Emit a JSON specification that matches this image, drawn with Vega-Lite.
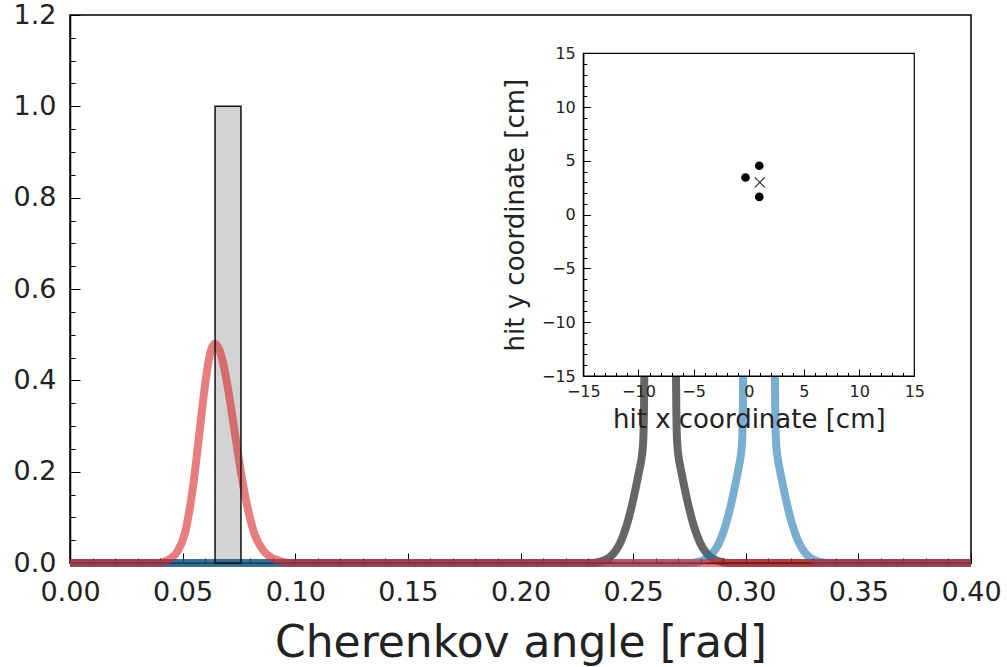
{
  "$schema": "https://vega.github.io/schema/vega-lite/v6.json",
  "width": 901,
  "height": 548,
  "autosize": {"type": "none"},
  "padding": {"left": 70, "top": 15, "right": 36, "bottom": 104},
  "background": "white",
  "config": {
    "view": {"stroke": "black", "strokeWidth": 1.5},
    "font": "DejaVu Sans",
    "axis": {"grid": false, "labelFont": "DejaVu Sans", "titleFont": "DejaVu Sans", "labelColor": "#222", "titleColor": "#222", "titleFontWeight": "normal", "tickColor": "black", "domainColor": "black", "labelFlush": false, "labelOverlap": false}
  },
  "datasets": {
    "curves": [
      {"series": "black", "x": 0, "y": 0}, {"series": "black", "x": 0.23092, "y": 0}, {"series": "black", "x": 0.23536, "y": 0.0032}, {"series": "black", "x": 0.23891, "y": 0.0103}, {"series": "black", "x": 0.24158, "y": 0.0223}, {"series": "black", "x": 0.24424, "y": 0.0439}, {"series": "black", "x": 0.24691, "y": 0.0787}, {"series": "black", "x": 0.24957, "y": 0.1284}, {"series": "black", "x": 0.25179, "y": 0.1795}, {"series": "black", "x": 0.25268, "y": 0.2016}, {"series": "black", "x": 0.25356, "y": 0.224}, {"series": "black", "x": 0.25423, "y": 0.25}, {"series": "black", "x": 0.25459, "y": 0.28}, {"series": "black", "x": 0.25481, "y": 0.33}, {"series": "black", "x": 0.25494, "y": 0.4}, {"series": "black", "x": 0.25512, "y": 0.5}, {"series": "black", "x": 0.25556, "y": 0.62}, {"series": "black", "x": 0.25712, "y": 0.8}, {"series": "black", "x": 0.25934, "y": 0.92}, {"series": "black", "x": 0.262, "y": 0.96}, {"series": "black", "x": 0.26466, "y": 0.92}, {"series": "black", "x": 0.26688, "y": 0.8}, {"series": "black", "x": 0.26844, "y": 0.62}, {"series": "black", "x": 0.26888, "y": 0.5}, {"series": "black", "x": 0.26906, "y": 0.4}, {"series": "black", "x": 0.26919, "y": 0.33}, {"series": "black", "x": 0.26941, "y": 0.28}, {"series": "black", "x": 0.26977, "y": 0.25}, {"series": "black", "x": 0.27044, "y": 0.224}, {"series": "black", "x": 0.27132, "y": 0.2016}, {"series": "black", "x": 0.27221, "y": 0.1795}, {"series": "black", "x": 0.27443, "y": 0.1284}, {"series": "black", "x": 0.27709, "y": 0.0787}, {"series": "black", "x": 0.27976, "y": 0.0439}, {"series": "black", "x": 0.28242, "y": 0.0223}, {"series": "black", "x": 0.28509, "y": 0.0103}, {"series": "black", "x": 0.28864, "y": 0.0032}, {"series": "black", "x": 0.29308, "y": 0}, {"series": "black", "x": 0.4, "y": 0},
      {"series": "blue", "x": 0, "y": 0}, {"series": "blue", "x": 0.27482, "y": 0}, {"series": "blue", "x": 0.27926, "y": 0.0032}, {"series": "blue", "x": 0.28281, "y": 0.0103}, {"series": "blue", "x": 0.28548, "y": 0.0223}, {"series": "blue", "x": 0.28814, "y": 0.0439}, {"series": "blue", "x": 0.29081, "y": 0.0787}, {"series": "blue", "x": 0.29347, "y": 0.1284}, {"series": "blue", "x": 0.29569, "y": 0.1795}, {"series": "blue", "x": 0.29658, "y": 0.2016}, {"series": "blue", "x": 0.29746, "y": 0.224}, {"series": "blue", "x": 0.29813, "y": 0.25}, {"series": "blue", "x": 0.29849, "y": 0.28}, {"series": "blue", "x": 0.29871, "y": 0.33}, {"series": "blue", "x": 0.29884, "y": 0.4}, {"series": "blue", "x": 0.29902, "y": 0.5}, {"series": "blue", "x": 0.29946, "y": 0.62}, {"series": "blue", "x": 0.30102, "y": 0.8}, {"series": "blue", "x": 0.30324, "y": 0.92}, {"series": "blue", "x": 0.3059, "y": 0.96}, {"series": "blue", "x": 0.30856, "y": 0.92}, {"series": "blue", "x": 0.31078, "y": 0.8}, {"series": "blue", "x": 0.31234, "y": 0.62}, {"series": "blue", "x": 0.31278, "y": 0.5}, {"series": "blue", "x": 0.31296, "y": 0.4}, {"series": "blue", "x": 0.31309, "y": 0.33}, {"series": "blue", "x": 0.31331, "y": 0.28}, {"series": "blue", "x": 0.31367, "y": 0.25}, {"series": "blue", "x": 0.31434, "y": 0.224}, {"series": "blue", "x": 0.31522, "y": 0.2016}, {"series": "blue", "x": 0.31611, "y": 0.1795}, {"series": "blue", "x": 0.31833, "y": 0.1284}, {"series": "blue", "x": 0.32099, "y": 0.0787}, {"series": "blue", "x": 0.32366, "y": 0.0439}, {"series": "blue", "x": 0.32632, "y": 0.0223}, {"series": "blue", "x": 0.32899, "y": 0.0103}, {"series": "blue", "x": 0.33254, "y": 0.0032}, {"series": "blue", "x": 0.33698, "y": 0}, {"series": "blue", "x": 0.4, "y": 0},
      {"series": "red", "x": 0, "y": 0}, {"series": "red", "x": 0.0378, "y": 0}, {"series": "red", "x": 0.0411, "y": 0.002}, {"series": "red", "x": 0.0444, "y": 0.009}, {"series": "red", "x": 0.0477, "y": 0.025}, {"series": "red", "x": 0.051, "y": 0.065}, {"series": "red", "x": 0.0543, "y": 0.156}, {"series": "red", "x": 0.0576, "y": 0.291}, {"series": "red", "x": 0.05925, "y": 0.3623}, {"series": "red", "x": 0.0609, "y": 0.4236}, {"series": "red", "x": 0.06255, "y": 0.4652}, {"series": "red", "x": 0.0642, "y": 0.48}, {"series": "red", "x": 0.0664, "y": 0.4652}, {"series": "red", "x": 0.0686, "y": 0.4236}, {"series": "red", "x": 0.0708, "y": 0.3623}, {"series": "red", "x": 0.073, "y": 0.291}, {"series": "red", "x": 0.0774, "y": 0.156}, {"series": "red", "x": 0.0818, "y": 0.065}, {"series": "red", "x": 0.0862, "y": 0.025}, {"series": "red", "x": 0.0906, "y": 0.009}, {"series": "red", "x": 0.095, "y": 0.002}, {"series": "red", "x": 0.0994, "y": 0}, {"series": "red", "x": 0.4, "y": 0}
    ],
    "hist": [{"x": 0.0644, "x2": 0.0759, "y": 0, "y2": 1.0}],
    "frame": [{"hx": -15, "hx2": 15, "hy": -15, "hy2": 15}],
    "hits": [{"hx": -0.3, "hy": 3.45}, {"hx": 0.95, "hy": 4.55}, {"hx": 0.95, "hy": 1.65}],
    "center": [{"hx": 1.0, "hy": 3.0}]
  },
  "layer": [
    {
      "layer": [
        {
          "data": {"name": "hist"},
          "mark": {"type": "rect", "fill": "#d3d3d3", "stroke": null},
          "encoding": {
            "x": {"field": "x", "type": "quantitative", "scale": {"domain": [0, 0.4], "nice": false, "zero": false},
              "axis": {"title": "Cherenkov angle [rad]", "tickCount": 200, "values": [0, 0.01, 0.02, 0.03, 0.04, 0.05, 0.06, 0.07, 0.08, 0.09, 0.1, 0.11, 0.12, 0.13, 0.14, 0.15, 0.16, 0.17, 0.18, 0.19, 0.2, 0.21, 0.22, 0.23, 0.24, 0.25, 0.26, 0.27, 0.28, 0.29, 0.3, 0.31, 0.32, 0.33, 0.34, 0.35, 0.36, 0.37, 0.38, 0.39, 0.4], "labelExpr": "abs(datum.value*20 - round(datum.value*20)) < 0.001 ? format(datum.value, '.2f') : ''", "tickSize": {"condition": {"test": "abs(datum.value*20 - round(datum.value*20)) < 0.001", "value": -10}, "value": -5}, "labelFontSize": 27, "titleFontSize": 44, "labelPadding": 26, "titlePadding": 11, "labelOverlap": false, "labelFlush": false, "domainWidth": 1.5, "tickWidth": 1}},
            "x2": {"field": "x2"},
            "y": {"field": "y", "type": "quantitative", "scale": {"domain": [0, 1.2], "nice": false, "zero": false},
              "axis": {"title": null, "tickCount": 200, "values": [0, 0.05, 0.1, 0.15, 0.2, 0.25, 0.3, 0.35, 0.4, 0.45, 0.5, 0.55, 0.6, 0.65, 0.7, 0.75, 0.8, 0.85, 0.9, 0.95, 1.0, 1.05, 1.1, 1.15, 1.2], "labelExpr": "abs(datum.value*5 - round(datum.value*5)) < 0.001 ? format(datum.value, '.1f') : ''", "tickSize": {"condition": {"test": "abs(datum.value*5 - round(datum.value*5)) < 0.001", "value": -10}, "value": -5}, "labelFontSize": 27, "labelPadding": 24, "labelOverlap": false, "labelFlush": false, "domainWidth": 1.5, "tickWidth": 1}},
            "y2": {"field": "y2"}
          }
        },
        {
          "data": {"name": "curves"},
          "mark": {"type": "line", "strokeWidth": 8, "opacity": 0.6, "interpolate": "monotone"},
          "encoding": {
            "x": {"field": "x", "type": "quantitative"},
            "y": {"field": "y", "type": "quantitative"},
            "color": {"field": "series", "type": "nominal", "scale": {"domain": ["black", "blue", "red"], "range": ["#000000", "#1f77b4", "#d62728"]}, "legend": null}
          }
        },
        {
          "data": {"name": "hist"},
          "mark": {"type": "rect", "fill": null, "fillOpacity": 0, "stroke": "#111", "strokeWidth": 1.5},
          "encoding": {
            "x": {"field": "x", "type": "quantitative"},
            "x2": {"field": "x2"},
            "y": {"field": "y", "type": "quantitative"},
            "y2": {"field": "y2"}
          }
        }
      ]
    },
    {
      "layer": [
        {
          "data": {"name": "frame"},
          "mark": {"type": "rect", "fill": "white", "stroke": "black", "strokeWidth": 1.2},
          "encoding": {
            "x": {"field": "hx", "type": "quantitative", "scale": {"domain": [-15, 15], "range": [513.3, 844.3], "nice": false, "zero": false},
              "axis": {"orient": "bottom", "offset": -187, "zindex": 1, "title": "hit x coordinate [cm]", "tickCount": 200, "values": [-15, -14, -13, -12, -11, -10, -9, -8, -7, -6, -5, -4, -3, -2, -1, 0, 1, 2, 3, 4, 5, 6, 7, 8, 9, 10, 11, 12, 13, 14, 15], "labelExpr": "datum.value % 5 == 0 ? format(datum.value, 'd') : ''", "tickSize": {"condition": {"test": "datum.value % 5 == 0", "value": -7}, "value": -3.5}, "labelFontSize": 16, "titleFontSize": 26, "labelPadding": 14, "titlePadding": 4, "labelOverlap": false, "labelFlush": false, "domainWidth": 1.2, "tickWidth": 1}},
            "x2": {"field": "hx2"},
            "y": {"field": "hy", "type": "quantitative", "scale": {"domain": [-15, 15], "range": [361, 38.3], "nice": false, "zero": false},
              "axis": {"orient": "left", "offset": -513.3, "zindex": 1, "title": "hit y coordinate [cm]", "tickCount": 200, "values": [-15, -14, -13, -12, -11, -10, -9, -8, -7, -6, -5, -4, -3, -2, -1, 0, 1, 2, 3, 4, 5, 6, 7, 8, 9, 10, 11, 12, 13, 14, 15], "labelExpr": "datum.value % 5 == 0 ? format(datum.value, 'd') : ''", "tickSize": {"condition": {"test": "datum.value % 5 == 0", "value": -7}, "value": -3.5}, "labelFontSize": 16, "titleFontSize": 26, "labelPadding": 15, "titlePadding": 13, "labelOverlap": false, "labelFlush": false, "domainWidth": 1.2, "tickWidth": 1}},
            "y2": {"field": "hy2"}
          }
        },
        {
          "data": {"name": "hits"},
          "mark": {"type": "point", "shape": "circle", "filled": true, "color": "black", "size": 75, "opacity": 1},
          "encoding": {
            "x": {"field": "hx", "type": "quantitative"},
            "y": {"field": "hy", "type": "quantitative"}
          }
        },
        {
          "data": {"name": "center"},
          "mark": {"type": "point", "shape": "M-1,-1L1,1M-1,1L1,-1", "filled": false, "stroke": "#333", "strokeWidth": 1.2, "size": 100, "opacity": 1},
          "encoding": {
            "x": {"field": "hx", "type": "quantitative"},
            "y": {"field": "hy", "type": "quantitative"}
          }
        }
      ]
    }
  ],
  "resolve": {"scale": {"x": "independent", "y": "independent"}}
}
